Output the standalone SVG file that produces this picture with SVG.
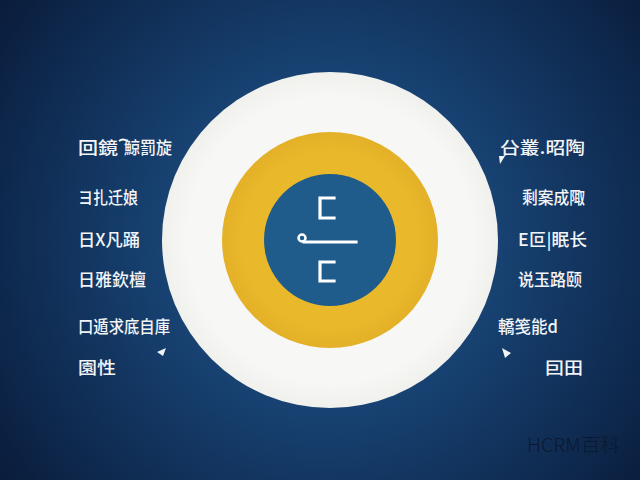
<svg xmlns="http://www.w3.org/2000/svg" width="640" height="480" viewBox="0 0 640 480">
<defs>
<radialGradient id="bg" cx="330" cy="240" r="420" gradientUnits="userSpaceOnUse">
<stop offset="0" stop-color="#25598e"/>
<stop offset="0.45" stop-color="#163f6e"/>
<stop offset="1" stop-color="#091a38"/>
</radialGradient>
<radialGradient id="wh" cx="330" cy="240" r="168" gradientUnits="userSpaceOnUse">
<stop offset="0.85" stop-color="#f7f7f5"/>
<stop offset="1" stop-color="#f0f0ed"/>
</radialGradient>
<radialGradient id="ye" cx="330" cy="240" r="108" gradientUnits="userSpaceOnUse">
<stop offset="0.8" stop-color="#eab92b"/>
<stop offset="1" stop-color="#e3b027"/>
</radialGradient>
<style>
.lbl{font-family:"Noto Sans CJK SC","Noto Sans CJK JP",sans-serif;font-size:17px;font-weight:500;fill:#f2f4f7}
.sym{fill:none;stroke:#ffffff;stroke-width:3.2;stroke-linecap:square}
.arr{fill:#f2f4f7}
</style>
</defs>
<rect width="640" height="480" fill="url(#bg)"/>
<g id="rings">
<circle cx="330" cy="240" r="168" fill="url(#wh)"/>
<circle cx="330" cy="240" r="108" fill="url(#ye)"/>
<circle cx="330" cy="240" r="66" fill="#1f5b8b"/>
</g>
<g id="center-symbol">
<polyline class="sym" points="334,198 320,198 320,218 334,218"/>
<polyline class="sym" points="334,262 320,262 320,281 334,281"/>
<line class="sym" x1="304" y1="242" x2="356" y2="242"/>
<circle cx="302" cy="238" r="3.5" fill="none" stroke="#fff" stroke-width="2.5"/>
</g>
<g id="left-labels">
<g id="l1"><text class="lbl" x="78" y="154" textLength="40" lengthAdjust="spacingAndGlyphs">回鏡</text><path d="M119,141 q4,-3 8,0" stroke="#fff" stroke-width="2" fill="none"/><text class="lbl" x="124" y="154" textLength="48" lengthAdjust="spacingAndGlyphs">鯨罰旋</text></g>
<g id="l2"><text class="lbl" x="78" y="204" textLength="60" lengthAdjust="spacingAndGlyphs">ヨ扎迁娘</text></g>
<g id="l3"><text class="lbl" x="78" y="246" textLength="62" lengthAdjust="spacingAndGlyphs">日X凡踊</text></g>
<g id="l4"><text class="lbl" x="78" y="286" textLength="68" lengthAdjust="spacingAndGlyphs">日雅欽檀</text></g>
<g id="l5"><text class="lbl" x="78" y="333" textLength="92" lengthAdjust="spacingAndGlyphs">口遁求底自庫</text></g>
<g id="l6"><text class="lbl" x="78" y="374" textLength="38" lengthAdjust="spacingAndGlyphs">園性</text></g>
</g>
<g id="right-labels">
<g id="r1"><text class="lbl" x="500" y="154" textLength="85" lengthAdjust="spacingAndGlyphs">㕣叢.昭陶</text></g>
<g id="r2"><text class="lbl" x="522" y="204" textLength="63" lengthAdjust="spacingAndGlyphs">剩案成陬</text></g>
<g id="r3"><text class="lbl" x="518" y="246" textLength="69" lengthAdjust="spacingAndGlyphs">E叵|眠长</text></g>
<g id="r4"><text class="lbl" x="518" y="286" textLength="64" lengthAdjust="spacingAndGlyphs">说玉路颐</text></g>
<g id="r5"><text class="lbl" x="498" y="333" textLength="60" lengthAdjust="spacingAndGlyphs">轎笺能d</text></g>
<g id="r6"><text class="lbl" x="545" y="374" textLength="38" lengthAdjust="spacingAndGlyphs">囙田</text></g>
</g>
<g id="connectors">
<polygon class="arr" points="166,348 157,352 163,356"/>
<polygon class="arr" points="502,348 511,353 505,358"/>
<polygon class="arr" points="499,156 505,156 500,164"/>
</g>
<g id="watermark">
<text x="527" y="452" font-family="'Noto Sans CJK SC',sans-serif" font-size="19" font-weight="300" fill="#0b1930" textLength="93" lengthAdjust="spacingAndGlyphs">HCRM百科</text>
</g>
</svg>
